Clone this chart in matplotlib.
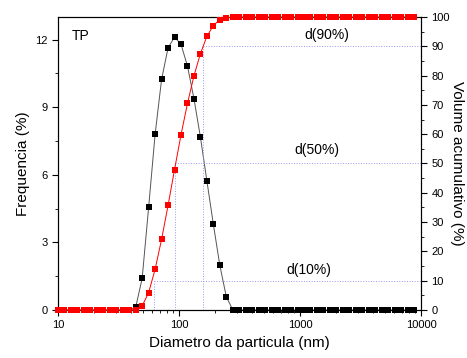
import matplotlib.pyplot as plt
from matplotlib.ticker import MultipleLocator, FixedLocator, FixedFormatter, LogLocator, NullFormatter

plt.rcParams["font.family"] = ["Liberation Sans", "DejaVu Sans"]

# particle diameter bins (nm)
diameters = [10.00, 11.31, 12.79, 14.47, 16.37, 18.51, 20.94, 23.69, 26.79, 30.30,
             34.28, 38.77, 43.85, 49.60, 56.10, 63.46, 71.78, 81.19, 91.83, 103.9,
             117.5, 132.9, 150.3, 170.0, 192.3, 217.5, 246.0, 278.3, 314.8, 356.1,
             402.7, 455.6, 515.2, 582.8, 659.2, 745.7, 843.3, 953.9, 1079, 1220,
             1380, 1561, 1766, 1997, 2259, 2555, 2891, 3269, 3698, 4183,
             4732, 5353, 6053, 6847, 7745, 8760]

# frequency (%)
frequency = [0.0] * 12 + [0.12, 1.40, 4.55, 7.79, 10.23, 11.63, 12.11, 11.79, 10.82,
                          9.38, 7.67, 5.73, 3.80, 1.98, 0.59] + [0.0] * 29

# cumulative volume (%)
cumulative = [0.0] * 12 + [0.1, 1.4, 5.9, 13.9, 24.1, 35.7, 47.9, 59.8, 70.5,
                           79.9, 87.5, 93.4, 97.1, 99.1, 99.7] + [100.0] * 29

d_labels = ["d(10%)", "d(50%)", "d(90%)"]
d_values = [62.4, 93.0, 157.7]
d_percent = [10, 50, 90]
label_x = [1174, 1367, 1671]
label_y = [13.6, 54.5, 93.8]

fig = plt.figure(figsize=(4.67, 3.58), dpi=100)
ax = fig.add_axes([0.1242, 0.1341, 0.7773, 0.8184])
ax2 = ax.twinx()

ax.plot(diameters, frequency, color="#555555", lw=0.7, marker="s", ms=4, mew=0,
        mfc="black", clip_on=False, zorder=3)
ax2.plot(diameters, cumulative, color="red", lw=0.7, marker="s", ms=4, mew=0,
         mfc="red", clip_on=False, zorder=3)

for d, p in zip(d_values, d_percent):
    ax2.plot([d, d], [0, p], color="#9a9ae8", lw=0.7, ls=":", zorder=1)
    ax2.plot([d, 10000], [p, p], color="#9a9ae8", lw=0.7, ls=":", zorder=1)
for t, x, y in zip(d_labels, label_x, label_y):
    ax2.text(x, y, t, ha="center", va="center", fontsize=10)

ax.text(0.039, 0.935, "TP", transform=ax.transAxes, ha="left", va="center", fontsize=10)

ax.set_xscale("log")
ax.set_xlim(10, 10000)
ax.set_ylim(0, 13)
ax2.set_ylim(0, 100)

ax.xaxis.set_major_locator(FixedLocator([10, 100, 1000, 10000]))
ax.xaxis.set_major_formatter(FixedFormatter(["10", "100", "1000", "10000"]))
ax.xaxis.set_minor_locator(LogLocator(base=10, subs=range(2, 10)))
ax.xaxis.set_minor_formatter(NullFormatter())
ax.yaxis.set_major_locator(MultipleLocator(3))
ax.yaxis.set_minor_locator(MultipleLocator(1.5))
ax2.yaxis.set_major_locator(MultipleLocator(10))
ax2.yaxis.set_minor_locator(MultipleLocator(5))

ax.tick_params(which="both", direction="out", labelsize=8, top=False)
ax.tick_params(which="major", length=4)
ax.tick_params(which="minor", length=2)
ax2.tick_params(which="both", direction="out", labelsize=8)
ax2.tick_params(which="major", length=4)
ax2.tick_params(which="minor", length=2)

ax.set_xlabel("Diametro da particula (nm)", fontsize=11)
ax.set_ylabel("Frequencia (%)", fontsize=11)
ax2.set_ylabel("Volume acumulativo (%)", fontsize=11, rotation=270, labelpad=10)

fig.savefig("out.png", dpi=100)
